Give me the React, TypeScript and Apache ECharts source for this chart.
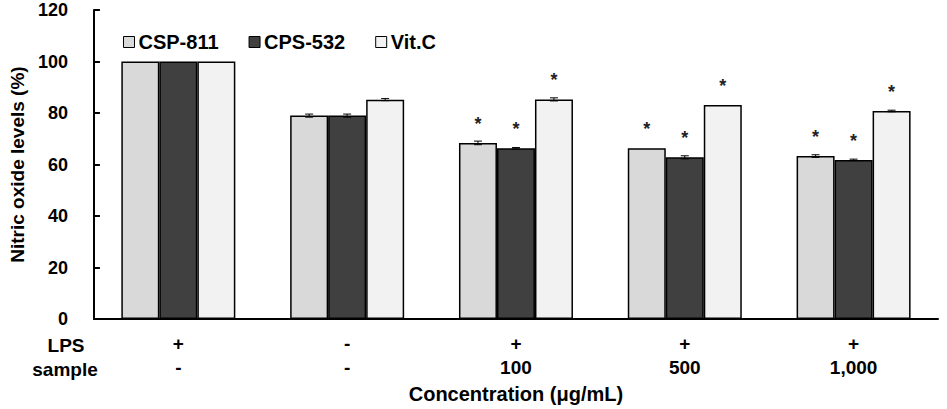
import React, { useEffect, useRef } from "react";
import * as echarts from "echarts";

const lpsRow = ["+", "-", "+", "+", "+"];
const sampleRow = ["-", "-", "100", "500", "1,000"];
const seriesNames = ["CSP-811", "CPS-532", "Vit.C"];
const csp811 = [100, 79, 68.4, 66.3, 63.3];
const cps532 = [100, 79, 66.3, 62.8, 61.8];
const vitC = [100, 85.2, 85.3, 83.1, 80.8];
const csp811Err = [0, 0.6, 0.7, 0, 0.5];
const cps532Err = [0, 0.6, 0.3, 0.6, 0.3];
const vitCErr = [0, 0.4, 0.6, 0, 0.3];
const csp811Sig = [false, false, true, true, true];
const cps532Sig = [false, false, true, true, true];
const vitCSig = [false, false, true, true, true];
const yTicks = [0, 20, 40, 60, 80, 100, 120];

const colors = ["#d9d9d9", "#404040", "#f2f2f2"];
const font = "'Liberation Sans', Arial, sans-serif";

export default function App() {
  const ref = useRef<HTMLDivElement>(null);
  useEffect(() => {
    if (!ref.current) return;
    const chart = echarts.init(ref.current, undefined, { renderer: "svg" });
    const values = [csp811, cps532, vitC];
    const errs = [csp811Err, cps532Err, vitCErr];
    const sigs = [csp811Sig, cps532Sig, vitCSig];
    const categories = lpsRow.map((l, i) => l + "\n" + sampleRow[i]);
    const barW = 38;

    const bars = values.map((vals, si) => ({
      name: seriesNames[si],
      type: "bar",
      data: vals,
      barWidth: barW,
      barGap: "0%",
      itemStyle: { color: colors[si], borderColor: "#000", borderWidth: 1.5 },
      label: {
        show: true,
        position: "top",
        distance: 10,
        formatter: (p: any) => (sigs[si][p.dataIndex] ? "*" : ""),
        fontSize: 18,
        fontWeight: "bold",
        color: "#222",
        fontFamily: font,
      },
    }));

    const errSeries = values.map((vals, si) => ({
      type: "custom",
      name: "err" + si,
      silent: true,
      z: 5,
      data: vals.map((v, i) => [i, v, errs[si][i]]),
      renderItem: (params: any, api: any) => {
        const idx = api.value(0);
        const v = api.value(1);
        const e = api.value(2);
        if (!e) return { type: "group", children: [] };
        const c = api.coord([idx, v]);
        const x = c[0] + (si - 1) * barW;
        const top = api.coord([idx, v + e])[1];
        const bot = api.coord([idx, v - e])[1];
        const style = { stroke: "#000", lineWidth: 1 };
        return {
          type: "group",
          children: [
            { type: "line", shape: { x1: x, y1: top, x2: x, y2: bot }, style },
            { type: "line", shape: { x1: x - 4, y1: top, x2: x + 4, y2: top }, style },
            { type: "line", shape: { x1: x - 4, y1: bot, x2: x + 4, y2: bot }, style },
          ],
        };
      },
    }));

    chart.setOption({
      animation: false,
      backgroundColor: "#fff",
      grid: { left: 82, right: 9, top: 10, bottom: 88, containLabel: false },
      legend: {
        data: seriesNames,
        top: 27,
        left: 118,
        itemWidth: 11,
        itemHeight: 11,
        itemGap: 30,
        icon: "rect",
        itemStyle: { borderColor: "#000", borderWidth: 1 },
        textStyle: { fontFamily: font, fontWeight: "bold", fontSize: 20, color: "#000", padding: [0, 0, 0, -1] },
      },
      xAxis: {
        type: "category",
        data: categories,
        axisLine: { lineStyle: { color: "#000", width: 2 } },
        axisTick: { show: false },
        axisLabel: {
          margin: 12,
          lineHeight: 24,
          fontFamily: font,
          fontWeight: "bold",
          fontSize: 19,
          color: "#000",
        },
        name: "Concentration (μg/mL)",
        nameLocation: "middle",
        nameGap: 60,
        nameTextStyle: { fontFamily: font, fontWeight: "bold", fontSize: 20, color: "#000" },
      },
      yAxis: {
        type: "value",
        min: 0,
        max: 120,
        interval: 20,
        splitLine: { show: false },
        axisLine: { show: true, lineStyle: { color: "#000", width: 2 } },
        axisTick: { show: true, inside: true, length: 6, lineStyle: { color: "#000", width: 2 } },
        axisLabel: {
          fontFamily: font,
          fontWeight: "bold",
          fontSize: 18,
          color: "#000",
          margin: 26,
          formatter: (v: number) => (yTicks.includes(v) ? String(v) : ""),
        },
        name: "Nitric oxide levels (%)",
        nameLocation: "middle",
        nameGap: 57,
        nameTextStyle: { fontFamily: font, fontWeight: "bold", fontSize: 19, color: "#000" },
      },
      graphic: [
        {
          type: "text",
          x: 66,
          y: 345,
          style: { text: "LPS", font: `bold 19px ${font}`, fill: "#000", align: "center", verticalAlign: "middle" },
        },
        {
          type: "text",
          x: 65,
          y: 369,
          style: { text: "sample", font: `bold 19px ${font}`, fill: "#000", align: "center", verticalAlign: "middle" },
        },
      ],
      series: [...bars, ...errSeries],
    });
    return () => chart.dispose();
  }, []);
  return (
    <div
      ref={ref}
      style={{ position: "absolute", left: 0, top: 0, width: 947, height: 409 }}
    />
  );
}
